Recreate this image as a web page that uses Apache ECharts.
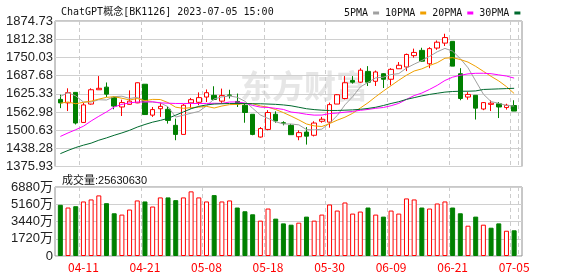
<!DOCTYPE html>
<html><head><meta charset="utf-8">
<script src="https://cdn.jsdelivr.net/npm/echarts@6/dist/echarts.min.js"></script>
<style>html,body{margin:0;padding:0;background:#fff}#c{width:578px;height:276px}</style>
</head><body><div id="c"></div>
<script>
const dates = ['04-06','04-07','04-10','04-11','04-12','04-13','04-14','04-17','04-18','04-19','04-20','04-21','04-24','04-25','04-26','04-27','04-28','05-04','05-05','05-08','05-09','05-10','05-11','05-12','05-15','05-16','05-17','05-18','05-19','05-22','05-23','05-24','05-25','05-26','05-29','05-30','05-31','06-01','06-02','06-05','06-06','06-07','06-08','06-09','06-12','06-13','06-14','06-15','06-16','06-19','06-20','06-21','06-26','06-27','06-28','06-29','06-30','07-03','07-04','07-05'];
const openP  = [1606,1594,1630,1527,1590,1639,1648,1613,1580,1589,1594,1658,1552,1574,1572,1517,1486,1594,1596,1614,1620,1600,1621,1599,1586,1555,1477,1503,1555,1526,1517,1478,1494,1483,1531,1528,1590,1609,1671,1665,1702,1668,1694,1675,1711,1717,1756,1774,1728,1782,1799,1805,1694,1614,1620,1573,1589,1591,1578,1585];
const closeP = [1594,1629,1525,1587,1639,1644,1624,1583,1595,1600,1663,1554,1571,1582,1534,1486,1586,1605,1612,1629,1606,1619,1620,1590,1561,1486,1506,1561,1532,1524,1485,1492,1480,1525,1538,1588,1622,1663,1665,1706,1665,1700,1675,1709,1723,1760,1767,1737,1780,1802,1818,1720,1609,1623,1576,1595,1593,1580,1586,1566];
const lowP   = [1576,1566,1520,1525,1588,1639,1614,1572,1549,1588,1593,1553,1546,1546,1523,1466,1486,1575,1586,1597,1603,1594,1609,1580,1526,1483,1475,1500,1526,1517,1485,1466,1451,1479,1526,1509,1590,1606,1660,1663,1652,1652,1645,1654,1711,1703,1749,1735,1713,1776,1789,1720,1603,1605,1537,1569,1566,1542,1571,1566];
const highP  = [1622,1644,1631,1594,1644,1686,1664,1616,1605,1637,1664,1658,1580,1595,1580,1540,1590,1611,1630,1640,1651,1643,1639,1626,1591,1555,1511,1569,1565,1531,1522,1500,1511,1531,1546,1595,1624,1686,1686,1713,1720,1705,1696,1713,1734,1763,1780,1783,1785,1808,1831,1805,1713,1631,1620,1597,1603,1597,1591,1603];
const ma5  = [1616,1629,1618,1597,1597,1604.8,1603.8,1615.4,1617,1609.2,1613,1599,1596.6,1594,1580.8,1545.4,1551.8,1558.6,1564.6,1583.6,1607.6,1614.6,1617.6,1613.2,1599.6,1575.6,1552.6,1540.8,1529.2,1521.8,1521.6,1518.8,1502.6,1501.2,1504,1524.6,1550.6,1587.2,1615.2,1648.8,1664.2,1679.8,1682.2,1691,1694.4,1713.4,1726.8,1739.2,1753.4,1769.2,1780.8,1771.4,1745.8,1714.4,1669.2,1623.8,1598.4,1592.6,1585.2,1583.2];
const ma10 = [1593,1597,1591,1596,1600,1607,1613,1615,1610,1604,1608.9,1601.4,1606,1605.5,1595,1579.2,1575.4,1577.6,1579.3,1582.2,1576.5,1583.2,1588.1,1588.9,1591.6,1591.6,1583.6,1579.2,1571.2,1560.7,1548.6,1535.7,1521.7,1515.2,1512.9,1523.1,1534.7,1544.9,1558.2,1576.4,1594.4,1615.2,1634.7,1653.1,1671.6,1688.8,1703.3,1710.7,1722.2,1731.8,1747.1,1749.1,1742.5,1733.9,1719.2,1702.3,1684.9,1669.2,1649.8,1626.2];
const ma20 = [1479,1491,1502,1514,1532,1548,1563,1580,1589,1594,1597,1597,1598,1594,1593,1592,1592,1592,1592,1592.1,1592.7,1592.3,1597.1,1597.2,1593.3,1585.4,1579.5,1578.4,1575.3,1571.5,1562.6,1559.5,1554.9,1552.1,1552.3,1557.4,1559.2,1562.1,1564.7,1568.6,1571.5,1575.5,1578.2,1584.2,1592.3,1606,1619,1627.8,1640.2,1654.1,1670.8,1682.2,1688.6,1693.5,1695.4,1695.6,1694.1,1690,1686,1679];
const ma30 = [1420,1431,1441,1449,1456,1466,1474,1483,1491,1500,1511,1520,1528,1534,1541,1552,1563,1574,1582,1587,1590,1591,1592,1592,1592,1591,1591,1590,1589,1587,1584,1579,1574,1571,1569,1568,1568,1569,1570,1572,1575,1579,1585,1592,1598,1606,1612,1618,1623,1627,1631,1633,1634,1634,1635,1640,1641,1642,1643,1644];
const volume = [5105,4834,4965,5438,5639,6042,5267,4260,4129,4632,5539,5438,4934,5841,5841,5569,5841,6445,5841,5438,6072,5438,5539,4834,4461,4159,3525,4733,3726,3253,3122,3323,3927,3525,4129,5136,4532,5337,4229,4431,4834,4129,3927,4532,4229,5740,5639,4834,4733,5236,5438,4834,4260,3021,3927,3122,2820,3253,2518,2563];
const priceTicks = {min: 1375.93, max: 1874.73, step: 62.35};
const volTicks = {min: 0, max: 6880, step: 1720};
const titleText = 'ChatGPT概念[BK1126] 2023-07-05 15:00';
const lastVolume = 25630630;
const maNames = ['5PMA','10PMA','20PMA','30PMA'];

const RED = '#ff0000', GREEN = '#008000';
const maColors = ['#a0a0a0','#f0a000','#ff00ff','#006a2e'];
const labelIdx = (i) => (i - 3) % 8 === 0;

const kData = dates.map((d, i) => [openP[i], closeP[i], lowP[i], highP[i]]);
const volData = volume.map((v, i) => {
  const up = i === 0 ? closeP[i] >= openP[i] : closeP[i] >= closeP[i - 1];
  return {value: v, itemStyle: {color: up ? '#fff' : GREEN, borderColor: up ? RED : GREEN, borderWidth: 1}};
});

const gridBorder = '#909090';
const splitH = {show: true, lineStyle: {color: '#d0d0d0', width: 1}};
const splitV = {show: true, interval: (i) => labelIdx(i), lineStyle: {color: '#cccccc', type: [4, 3], width: 1}};
const labelFont = {fontFamily: 'Liberation Sans, Arial, Noto Sans CJK SC', fontSize: 13, color: '#222'};

const chart = echarts.init(document.getElementById('c'), null, {renderer: 'canvas'});
chart.setOption({
  animation: false,
  backgroundColor: '#fff',
  title: [
    {text: titleText, left: 56, top: 2, textStyle: {fontFamily: 'DejaVu Sans Mono, Noto Sans CJK SC', fontSize: 10, fontWeight: 'normal', color: '#111'}},
    {text: '成交量:' + lastVolume, left: 57, top: 170, textStyle: {fontFamily: 'Liberation Sans, Noto Sans CJK SC', fontSize: 11, fontWeight: 'normal', color: '#111'}}
  ],
  legend: {
    data: maNames, left: 339, top: 3, align: 'right', icon: 'rect', itemWidth: 6, itemHeight: 3, itemGap: 6,
    textStyle: {fontFamily: 'DejaVu Sans Mono', fontSize: 10, color: '#111'}
  },
  graphic: [{
    type: 'text', left: 240, top: 70, z: -10, silent: true,
    style: {text: '东方财富', fontSize: 32, fontWeight: 'bold', fontFamily: 'Noto Sans CJK SC', fill: '#e6e6e6'}
  }],
  grid: [
    {left: 55, right: 56, top: 21, height: 145.5, show: true, borderColor: gridBorder, borderWidth: 1, backgroundColor: 'transparent'},
    {left: 56.5, right: 60, top: 21, height: 145.5},
    {left: 55, right: 56, top: 187, height: 69, show: true, borderColor: gridBorder, borderWidth: 1, backgroundColor: 'transparent'},
    {left: 56.5, right: 60, top: 187, height: 69}
  ],
  xAxis: [
    {type: 'value', gridIndex: 0, min: 0, max: 1, show: false},
    {type: 'category', gridIndex: 1, data: dates, boundaryGap: true, axisLine: {show: false}, axisTick: {show: false}, axisLabel: {show: false}, splitLine: splitV},
    {type: 'value', gridIndex: 2, min: 0, max: 1, show: false},
    {type: 'category', gridIndex: 3, data: dates, boundaryGap: true, axisLine: {show: false}, axisTick: {show: false},
      axisLabel: {show: true, interval: (i) => labelIdx(i), color: RED, fontFamily: 'Noto Sans CJK SC', fontSize: 12, margin: 5},
      splitLine: splitV}
  ],
  yAxis: [
    {type: 'value', gridIndex: 0, min: priceTicks.min, max: priceTicks.max, interval: priceTicks.step,
      axisLine: {show: false}, axisTick: {show: false}, splitLine: splitH,
      axisLabel: Object.assign({margin: 2, formatter: (v) => v.toFixed(2)}, labelFont)},
    {type: 'value', gridIndex: 1, min: priceTicks.min, max: priceTicks.max, show: false, splitLine: {show: false}},
    {type: 'value', gridIndex: 2, min: volTicks.min, max: volTicks.max, interval: volTicks.step,
      axisLine: {show: false}, axisTick: {show: false}, splitLine: splitH,
      axisLabel: Object.assign({margin: 2, formatter: (v) => v === 0 ? '0' : Math.round(v) + '万'}, labelFont)},
    {type: 'value', gridIndex: 3, min: volTicks.min, max: volTicks.max, show: false, splitLine: {show: false}}
  ],
  series: [
    {type: 'candlestick', name: 'K', xAxisIndex: 1, yAxisIndex: 1, data: kData, barWidth: 5,
      itemStyle: {color: '#fff', color0: GREEN, borderColor: RED, borderColor0: GREEN, borderWidth: 1}},
    {type: 'line', name: maNames[0], xAxisIndex: 1, yAxisIndex: 1, data: ma5, showSymbol: false, symbol: 'none', lineStyle: {width: 1, color: maColors[0]}, itemStyle: {color: maColors[0]}},
    {type: 'line', name: maNames[1], xAxisIndex: 1, yAxisIndex: 1, data: ma10, showSymbol: false, symbol: 'none', lineStyle: {width: 1, color: maColors[1]}, itemStyle: {color: maColors[1]}},
    {type: 'line', name: maNames[2], xAxisIndex: 1, yAxisIndex: 1, data: ma20, showSymbol: false, symbol: 'none', lineStyle: {width: 1, color: maColors[2]}, itemStyle: {color: maColors[2]}},
    {type: 'line', name: maNames[3], xAxisIndex: 1, yAxisIndex: 1, data: ma30, showSymbol: false, symbol: 'none', lineStyle: {width: 1, color: maColors[3]}, itemStyle: {color: maColors[3]}},
    {type: 'bar', name: 'VOL', xAxisIndex: 3, yAxisIndex: 3, data: volData, barWidth: 5}
  ]
});
</script></body></html>
